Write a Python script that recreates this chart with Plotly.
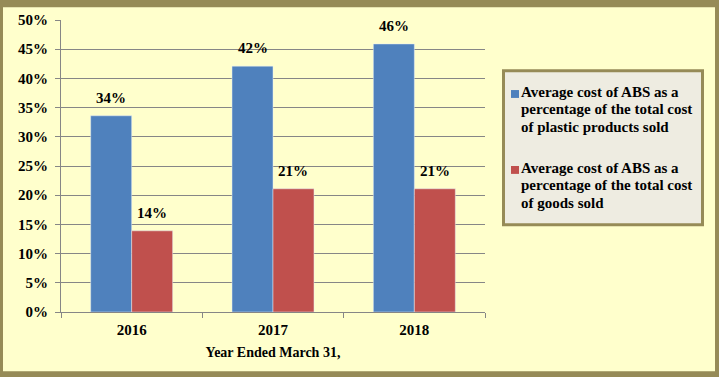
import plotly.graph_objects as go

categories = ["2016", "2017", "2018"]
series_lines = [
    ["Average cost of ABS as a", "percentage of the total cost", "of plastic products sold"],
    ["Average cost of ABS as a", "percentage of the total cost", "of goods sold"],
]
plastic_values = [33.6, 42.1, 45.9]
plastic_labels = ["34%", "42%", "46%"]
goods_values = [13.9, 21.1, 21.1]
goods_labels = ["14%", "21%", "21%"]
y_tickvals = [0, 5, 10, 15, 20, 25, 30, 35, 40, 45, 50]
y_ticktext = ["0%", "5%", "10%", "15%", "20%", "25%", "30%", "35%", "40%", "45%", "50%"]
colors = ["#4F81BD", "#C0504D"]

W, H = 719, 377
L, R, T, B = 61, 234, 16, 65
PW, PH = W - L - R, H - T - B

def px(x):
    return (x - L) / PW

def py(y):
    return (H - B - y) / PH

FONT = "Liberation Serif"
OLIVE = "#968B57"
FS = 15
BARGAP = 0.42
half_bar = (1 - BARGAP) / 4  # in category units

fig = go.Figure()
annotations = []
for k, (vals, labs, col, lines) in enumerate([(plastic_values, plastic_labels, colors[0], series_lines[0]),
                                              (goods_values, goods_labels, colors[1], series_lines[1])]):
    fig.add_trace(go.Bar(x=categories, y=vals, marker_color=col,
                         name=" ".join(lines), showlegend=False))
    for idx, (v, lab) in enumerate(zip(vals, labs)):
        annotations.append(dict(x=idx + (-1 if k == 0 else 1) * half_bar, y=v, xref="x", yref="y",
                                text="<b>" + lab + "</b>", showarrow=False, yanchor="bottom", yshift=8,
                                font=dict(family=FONT, size=FS, color="black")))

shapes = [
    dict(type="rect", xref="paper", yref="paper", x0=px(3), x1=px(715), y0=py(372), y1=py(3),
         fillcolor="#FFFFCC", line=dict(width=0), layer="below"),
    dict(type="rect", xref="paper", yref="paper", x0=px(503.5), x1=px(702.5), y0=py(223.5), y1=py(67.5),
         fillcolor="#EEECE1", line=dict(color=OLIVE, width=3), layer="above"),
]
legend_tops = [87, 164]
line_step = 17.5
for i, lines in enumerate(series_lines):
    t = legend_tops[i]
    shapes.append(dict(type="rect", xref="paper", yref="paper", x0=px(511), x1=px(519),
                       y0=py(t + 8), y1=py(t), fillcolor=colors[i], line=dict(width=0)))
    for j, line in enumerate(lines):
        annotations.append(dict(xref="paper", yref="paper", x=px(519), y=py(t + 2 + j * line_step),
                                text="<b>" + line + "</b>", showarrow=False,
                                xanchor="left", yanchor="middle", align="left",
                                font=dict(family=FONT, size=FS, color="black")))

fig.update_layout(
    width=W, height=H,
    margin=dict(l=L, r=R, t=T, b=B),
    paper_bgcolor=OLIVE,
    plot_bgcolor="white",
    barmode="group",
    bargap=BARGAP,
    bargroupgap=0,
    shapes=shapes,
    annotations=annotations,
    font=dict(family=FONT, size=FS, color="black"),
    xaxis=dict(
        type="category", range=[-0.5, len(categories) - 0.5],
        showline=True, linecolor="#868686", linewidth=1,
        ticks="outside", tickson="boundaries", ticklen=5, tickcolor="#868686",
        ticklabelstandoff=4,
        tickfont=dict(family=FONT, size=FS, color="black", weight="bold"),
        title=dict(text="<b>Year Ended March 31,</b>", font=dict(family=FONT, size=14), standoff=10),
    ),
    yaxis=dict(
        range=[0, 50], tickvals=y_tickvals, ticktext=y_ticktext,
        showline=True, linecolor="#868686", linewidth=1,
        showgrid=True, gridcolor="#868686", gridwidth=1,
        ticks="outside", ticklen=5, tickcolor="#868686",
        ticklabelstandoff=4,
        tickfont=dict(family=FONT, size=FS, color="black", weight="bold"),
        zeroline=False,
    ),
)

fig.write_html("out.html", config={"displayModeBar": False},
               post_script="document.body.style.margin='0';document.body.style.overflow='hidden';")
